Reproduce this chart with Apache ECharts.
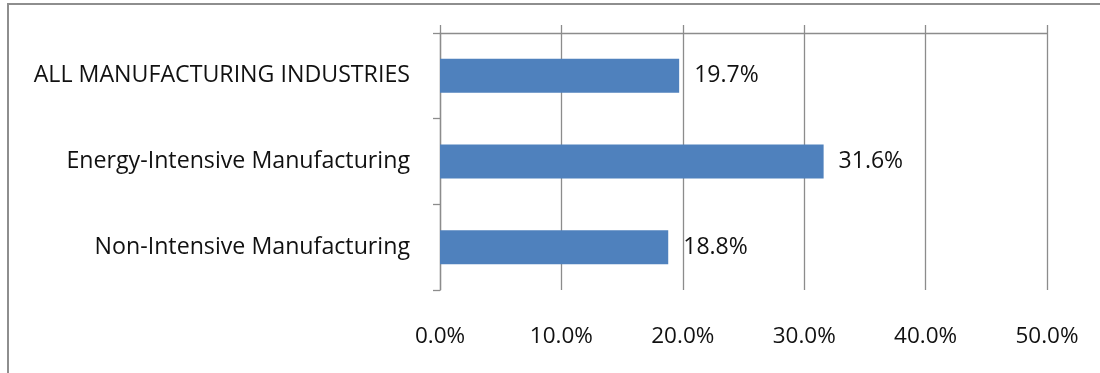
<!DOCTYPE html>
<html>
<head>
<meta charset="utf-8">
<script src="https://cdn.jsdelivr.net/npm/echarts@6/dist/echarts.min.js"></script>
<style>
  html, body { margin: 0; padding: 0; background: #fff; overflow: hidden; }
  #frame { position: absolute; left: 7px; top: 3px; width: 1200px; height: 500px;
           border-left: 2px solid #8e8e8e; border-top: 2px solid #8e8e8e; }
  #chart { position: absolute; left: 0; top: 0; width: 1100px; height: 373px; }
</style>
</head>
<body>
<div id="frame"></div>
<div id="chart"></div>
<script>
const categories = ['ALL MANUFACTURING INDUSTRIES', 'Energy-Intensive Manufacturing', 'Non-Intensive Manufacturing'];
const values = [19.7, 31.6, 18.8];
const axisMin = 0, axisMax = 50, axisStep = 10;

const gray = '#8c8c8c';
const font = '"Open Sans", "Liberation Sans", sans-serif';

const chart = echarts.init(document.getElementById('chart'), null, { renderer: 'canvas' });
chart.setOption({
  animation: false,
  grid: { left: 440, right: 53, top: 33, bottom: 83, containLabel: false },
  xAxis: [
    {
      type: 'value', position: 'bottom', min: axisMin, max: axisMax, interval: axisStep,
      axisLine: { show: false }, axisTick: { show: false },
      splitLine: { show: true, lineStyle: { color: gray, width: 1.3 } },
      axisLabel: { margin: 35, fontSize: 22.5, fontFamily: font, color: '#111',
                   formatter: v => v.toFixed(1) + '%' }
    },
    {
      type: 'value', position: 'top', min: axisMin, max: axisMax, interval: axisStep,
      axisLine: { show: true, lineStyle: { color: gray, width: 1.3 } },
      axisTick: { show: true, length: 8, inside: false, lineStyle: { color: gray, width: 1.3 } },
      splitLine: { show: false }, axisLabel: { show: false }
    }
  ],
  yAxis: {
    type: 'category', data: categories, inverse: true,
    axisLine: { show: true, lineStyle: { color: gray, width: 1.3 } },
    axisTick: { show: true, length: 7, lineStyle: { color: gray, width: 1.3 } },
    axisLabel: { margin: 30, fontSize: 23.2, fontFamily: font, color: '#111', padding: [5, 0, 0, 0] },
    splitLine: { show: false }
  },
  series: [{
    type: 'bar', data: values, xAxisIndex: 0,
    barWidth: 34,
    itemStyle: { color: '#4F81BD' },
    label: { show: true, position: 'right', distance: 15, fontSize: 23, fontFamily: font,
             color: '#111', padding: [6, 0, 0, 0], formatter: p => p.value.toFixed(1) + '%' }
  }]
});
</script>
</body>
</html>
